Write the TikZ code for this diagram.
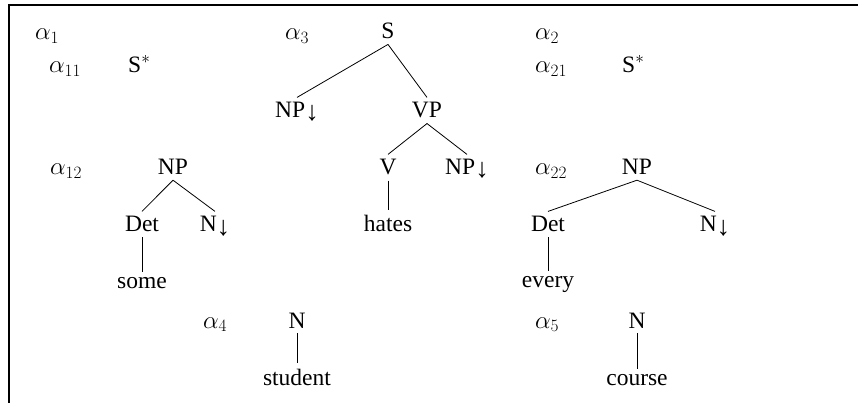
\documentclass[tikz,border=0pt]{standalone}
\usepackage{fontspec}
\setmainfont{Liberation Serif}
\newcommand{\dnarr}{\raisebox{-3pt}{\fontsize{27}{30}\selectfont ↓}}
\begin{document}
\begin{tikzpicture}[x=1pt,y=-1pt,
  every node/.style={font=\fontsize{23.5}{28}\selectfont},
  tn/.style={anchor=base, inner sep=5pt},
  lab/.style={anchor=base west, inner sep=0pt, font=\fontsize{26}{30}\selectfont},
  edge/.style={line width=0.8pt}]
\useasboundingbox (0,0) rectangle (858,403);
\draw[line width=2.3pt] (9,403) -- (9,5) -- (858,5);
% labels
\node[lab] (a1) at (35,39.5) {$\alpha_1$};
\node[lab] (a11) at (49,73) {$\alpha_{11}$};
\node[lab, font=\fontsize{23.5}{28}\selectfont] (s1) at (128,73) {S$^*$};
\node[lab] (a3) at (285,39.5) {$\alpha_3$};
\node[lab] (a2) at (535,39.5) {$\alpha_2$};
\node[lab] (a21) at (535,73) {$\alpha_{21}$};
\node[lab, font=\fontsize{23.5}{28}\selectfont] (s2) at (622,73) {S$^*$};
\node[lab] (a12) at (50,175) {$\alpha_{12}$};
\node[lab] (a22) at (535,175) {$\alpha_{22}$};
\node[lab] (a4) at (203,328) {$\alpha_4$};
\node[lab] (a5) at (535,328) {$\alpha_5$};
% alpha3 tree
\node[tn] (s3) at (388,39) {S};
\node[tn] (np3) at (297,118) {NP\dnarr};
\node[tn] (vp3) at (427,118) {VP};
\node[tn] (v3) at (388,175) {V};
\node[tn] (np3b) at (467,175) {NP\dnarr};
\node[tn] (hates) at (388,232) {hates};
\draw[edge] (s3.south) -- (np3.north);
\draw[edge] (s3.south) -- (vp3.north);
\draw[edge] (vp3.south) -- (v3.north);
\draw[edge] (vp3.south) -- (np3b.north);
\draw[edge] (v3.south) -- (hates.north);
% alpha12 tree
\node[tn] (np12) at (173,175) {NP};
\node[tn] (det12) at (142,232) {Det};
\node[tn] (n12) at (215,232) {N\dnarr};
\node[tn] (some) at (142,288) {some};
\draw[edge] (np12.south) -- (det12.north);
\draw[edge] (np12.south) -- (n12.north);
\draw[edge] (det12.south) -- (some.north);
% alpha22 tree
\node[tn] (np22) at (637,175) {NP};
\node[tn] (det22) at (548,232) {Det};
\node[tn] (n22) at (715,232) {N\dnarr};
\node[tn] (every) at (548,287) {every};
\draw[edge] (np22.south) -- (det22.north);
\draw[edge] (np22.south) -- (n22.north);
\draw[edge] (det22.south) -- (every.north);
% alpha4
\node[tn] (n4) at (297,328) {N};
\node[tn] (student) at (297,385) {student};
\draw[edge] (n4.south) -- (student.north);
% alpha5
\node[tn] (n5) at (637,328) {N};
\node[tn] (course) at (637,385) {course};
\draw[edge] (n5.south) -- (course.north);
\end{tikzpicture}
\end{document}
